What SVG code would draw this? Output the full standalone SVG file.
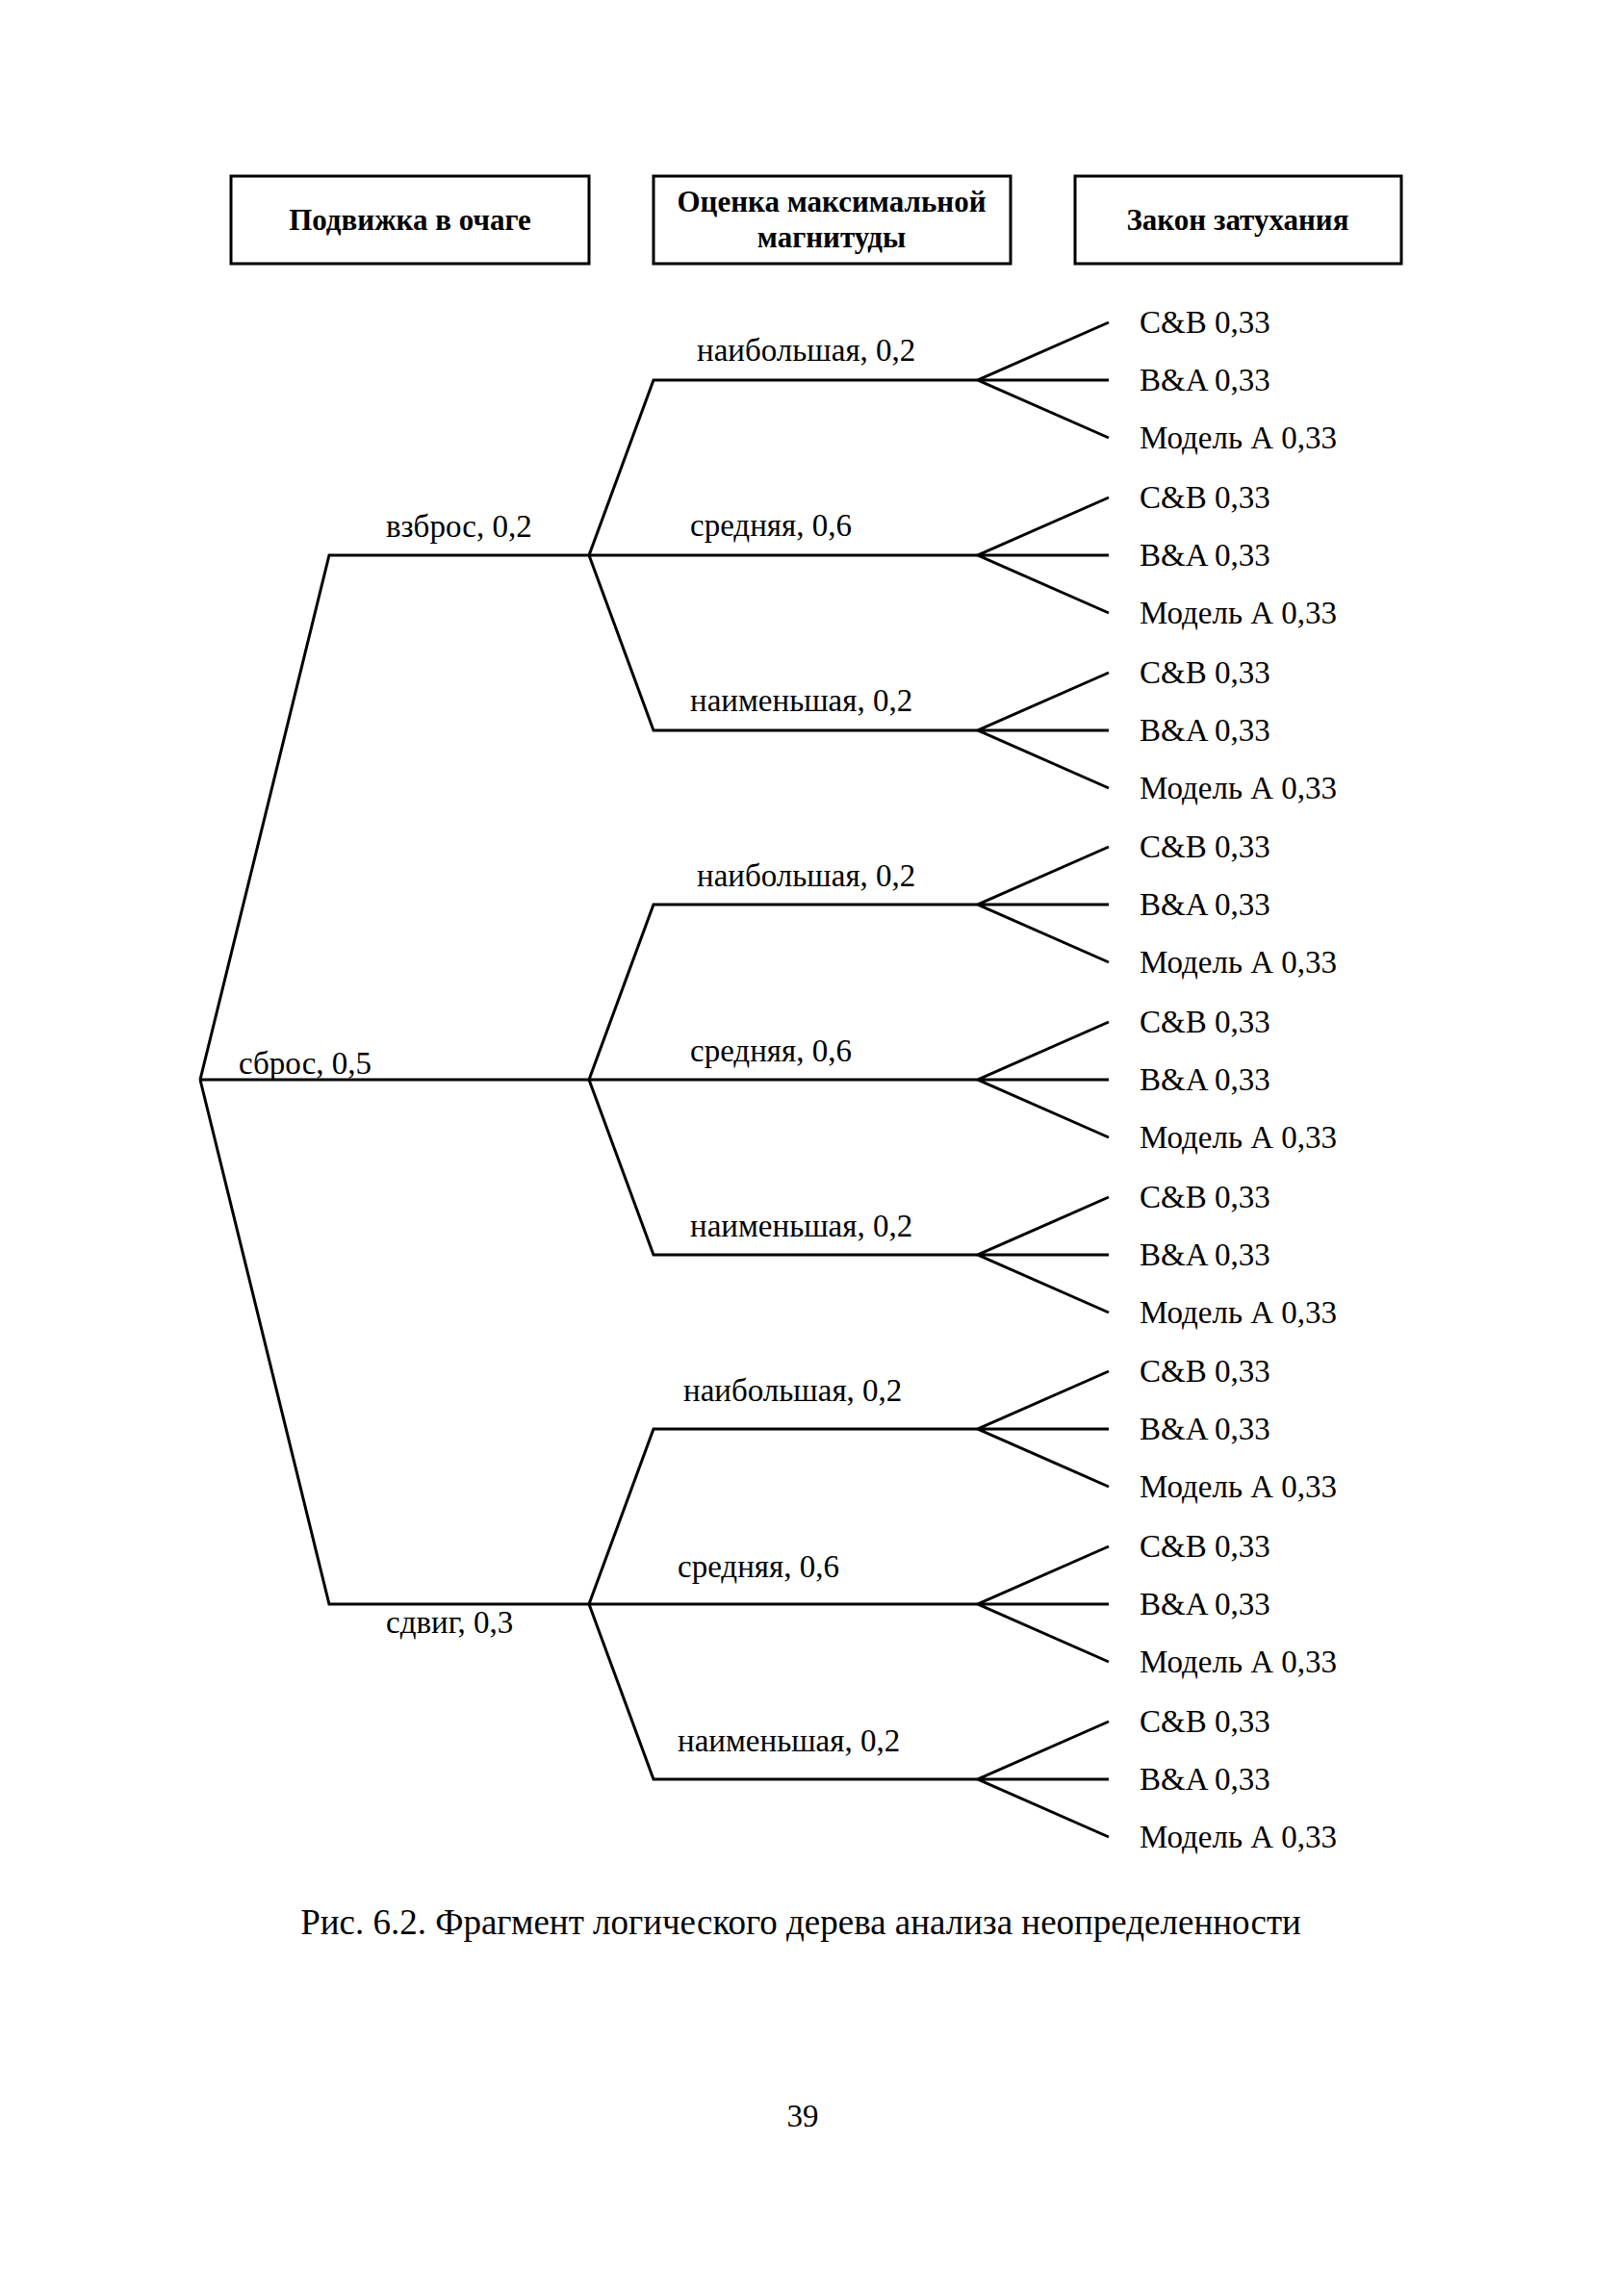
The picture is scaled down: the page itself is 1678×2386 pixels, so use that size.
<svg xmlns="http://www.w3.org/2000/svg" width="1678" height="2386" viewBox="0 0 1678 2386">
<style>
.bg{fill:#fff}
.box{fill:#fff;stroke:#000;stroke-width:3}
.ln{fill:none;stroke:#000;stroke-width:3;stroke-linejoin:miter}
text{font-family:"Liberation Serif","Times New Roman",serif;fill:#000}
.bt{font-size:31px;font-weight:bold;text-anchor:middle}
.lb{font-size:33px}
.lf{font-size:33px}
.cap{font-size:37px;text-anchor:middle}
.pg{font-size:33px;text-anchor:middle}
</style>
<rect class="bg" x="0" y="0" width="1678" height="2386"/>
<g id="header-1"><rect class="box" x="240" y="183" width="372" height="91"/><text class="bt" x="426" y="239">Подвижка в очаге</text></g>
<g id="header-2"><rect class="box" x="679" y="183" width="371" height="91"/><text class="bt" x="864" y="220">Оценка максимальной</text><text class="bt" x="864" y="257">магнитуды</text></g>
<g id="header-3"><rect class="box" x="1117" y="183" width="339" height="91"/><text class="bt" x="1286" y="239">Закон затухания</text></g>
<g id="connectors">
<path class="ln" d="M208,1122 L342,577 L612,577 M208,1122 L612,1122 M208,1122 L342,1667 L612,1667"/>
<path class="ln" d="M612,577 L679,395 L1016,395 M612,577 L1016,577 M612,577 L679,759 L1016,759"/>
<path class="ln" d="M612,1122 L679,940 L1016,940 M612,1122 L1016,1122 M612,1122 L679,1304 L1016,1304"/>
<path class="ln" d="M612,1667 L679,1485 L1016,1485 M612,1667 L1016,1667 M612,1667 L679,1849 L1016,1849"/>
<path class="ln" d="M1152,335 L1016,395 L1152,455 M1016,395 L1152,395"/>
<path class="ln" d="M1152,517 L1016,577 L1152,637 M1016,577 L1152,577"/>
<path class="ln" d="M1152,699 L1016,759 L1152,819 M1016,759 L1152,759"/>
<path class="ln" d="M1152,880 L1016,940 L1152,1000 M1016,940 L1152,940"/>
<path class="ln" d="M1152,1062 L1016,1122 L1152,1182 M1016,1122 L1152,1122"/>
<path class="ln" d="M1152,1244 L1016,1304 L1152,1364 M1016,1304 L1152,1304"/>
<path class="ln" d="M1152,1425 L1016,1485 L1152,1545 M1016,1485 L1152,1485"/>
<path class="ln" d="M1152,1607 L1016,1667 L1152,1727 M1016,1667 L1152,1667"/>
<path class="ln" d="M1152,1789 L1016,1849 L1152,1909 M1016,1849 L1152,1849"/>
</g>
<g id="level1-labels">
<text class="lb" x="401" y="558">взброс, 0,2</text>
<text class="lb" x="248" y="1116">сброс, 0,5</text>
<text class="lb" x="401" y="1697">сдвиг, 0,3</text>
</g>
<g id="level2-labels">
<text class="lb" x="724" y="375">наибольшая, 0,2</text>
<text class="lb" x="717" y="557">средняя, 0,6</text>
<text class="lb" x="717" y="739">наименьшая, 0,2</text>
<text class="lb" x="724" y="921">наибольшая, 0,2</text>
<text class="lb" x="717" y="1103">средняя, 0,6</text>
<text class="lb" x="717" y="1285">наименьшая, 0,2</text>
<text class="lb" x="710" y="1456">наибольшая, 0,2</text>
<text class="lb" x="704" y="1639">средняя, 0,6</text>
<text class="lb" x="704" y="1820">наименьшая, 0,2</text>
</g>
<g id="leaves">
<text class="lf" x="1184" y="346">C&amp;B 0,33</text><text class="lf" x="1184" y="406">B&amp;A 0,33</text><text class="lf" x="1184" y="466">Модель А 0,33</text>
<text class="lf" x="1184" y="528">C&amp;B 0,33</text><text class="lf" x="1184" y="588">B&amp;A 0,33</text><text class="lf" x="1184" y="648">Модель А 0,33</text>
<text class="lf" x="1184" y="710">C&amp;B 0,33</text><text class="lf" x="1184" y="770">B&amp;A 0,33</text><text class="lf" x="1184" y="830">Модель А 0,33</text>
<text class="lf" x="1184" y="891">C&amp;B 0,33</text><text class="lf" x="1184" y="951">B&amp;A 0,33</text><text class="lf" x="1184" y="1011">Модель А 0,33</text>
<text class="lf" x="1184" y="1073">C&amp;B 0,33</text><text class="lf" x="1184" y="1133">B&amp;A 0,33</text><text class="lf" x="1184" y="1193">Модель А 0,33</text>
<text class="lf" x="1184" y="1255">C&amp;B 0,33</text><text class="lf" x="1184" y="1315">B&amp;A 0,33</text><text class="lf" x="1184" y="1375">Модель А 0,33</text>
<text class="lf" x="1184" y="1436">C&amp;B 0,33</text><text class="lf" x="1184" y="1496">B&amp;A 0,33</text><text class="lf" x="1184" y="1556">Модель А 0,33</text>
<text class="lf" x="1184" y="1618">C&amp;B 0,33</text><text class="lf" x="1184" y="1678">B&amp;A 0,33</text><text class="lf" x="1184" y="1738">Модель А 0,33</text>
<text class="lf" x="1184" y="1800">C&amp;B 0,33</text><text class="lf" x="1184" y="1860">B&amp;A 0,33</text><text class="lf" x="1184" y="1920">Модель А 0,33</text>
</g>
<text class="cap" x="832" y="2010">Рис. 6.2. Фрагмент логического дерева анализа неопределенности</text>
<text class="pg" x="834" y="2210">39</text>
</svg>
